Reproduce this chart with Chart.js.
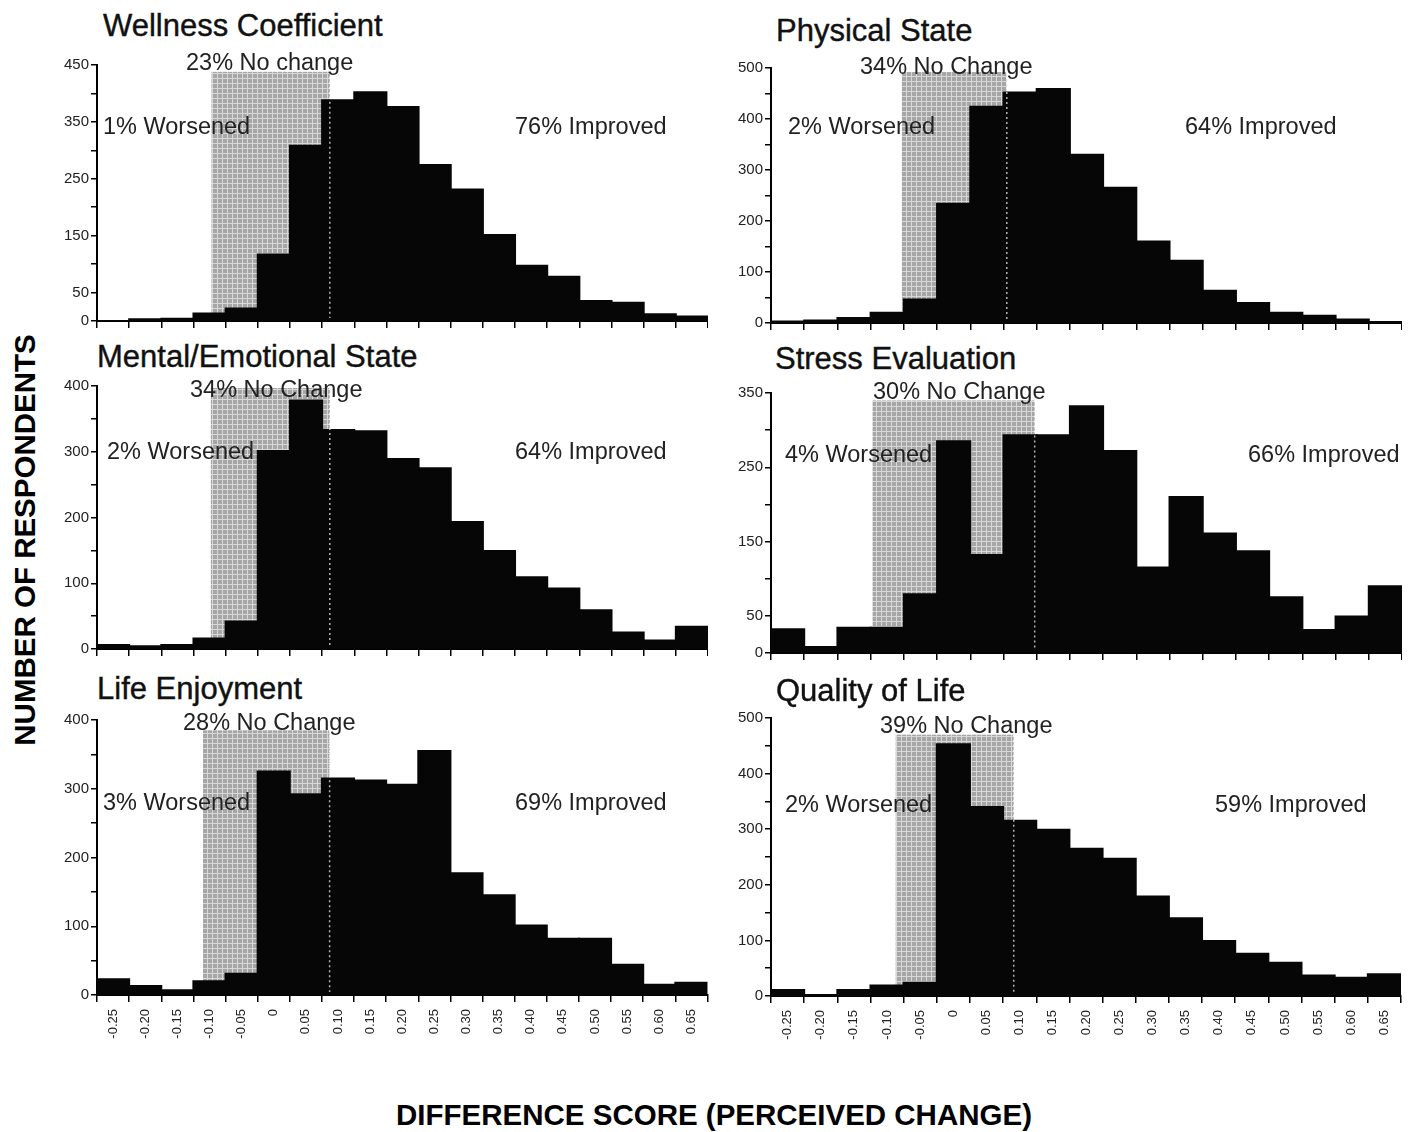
<!DOCTYPE html>
<html>
<head>
<meta charset="utf-8">
<script src="https://cdn.jsdelivr.net/npm/chart.js@4.4.1/dist/chart.umd.min.js"></script>
<style>
  body { margin: 0; background: #fff; }
  #page { position: relative; width: 1415px; height: 1132px; overflow: hidden; font-family: "Liberation Sans", Arial, sans-serif; color: #111; }
  .box { position: absolute; }
  .txt { position: absolute; white-space: nowrap; line-height: 1; transform: translateY(-50%); }
  .title { font-size: 31px; color: #111; -webkit-text-stroke: 0.4px #111; }
  .note { font-size: 23.5px; color: #222; }
  .axis-title { position: absolute; font-weight: bold; white-space: nowrap; line-height: 1; color: #000; }
</style>
</head>
<body>
<div id="page">
  <div class="box" id="box-wellness" style="left:47px; top:53px; width:661px; height:279px;"><canvas id="c-wellness"></canvas></div>
  <div class="box" id="box-physical" style="left:721px; top:56px; width:681px; height:278px;"><canvas id="c-physical"></canvas></div>
  <div class="box" id="box-mental" style="left:47px; top:374px; width:661px; height:286px;"><canvas id="c-mental"></canvas></div>
  <div class="box" id="box-stress" style="left:721px; top:381px; width:681px; height:283px;"><canvas id="c-stress"></canvas></div>
  <div class="box" id="box-life" style="left:47px; top:708px; width:667px; height:347px;"><canvas id="c-life"></canvas></div>
  <div class="box" id="box-quality" style="left:721px; top:706px; width:686px; height:350px;"><canvas id="c-quality"></canvas></div>

  <div class="txt title" style="left:103px; top:25px;">Wellness Coefficient</div>
  <div class="txt note" style="left:186px; top:63px;">23% No change</div>
  <div class="txt note" style="left:103px; top:127px;">1% Worsened</div>
  <div class="txt note" style="left:515px; top:127px;">76% Improved</div>

  <div class="txt title" style="left:776px; top:30px;">Physical State</div>
  <div class="txt note" style="left:860px; top:67px;">34% No Change</div>
  <div class="txt note" style="left:788px; top:127px;">2% Worsened</div>
  <div class="txt note" style="left:1185px; top:127px;">64% Improved</div>

  <div class="txt title" style="left:97px; top:356px;">Mental/Emotional State</div>
  <div class="txt note" style="left:190px; top:390px;">34% No Change</div>
  <div class="txt note" style="left:107px; top:452px;">2% Worsened</div>
  <div class="txt note" style="left:515px; top:452px;">64% Improved</div>

  <div class="txt title" style="left:775px; top:358px;">Stress Evaluation</div>
  <div class="txt note" style="left:873px; top:392px;">30% No Change</div>
  <div class="txt note" style="left:785px; top:455px;">4% Worsened</div>
  <div class="txt note" style="left:1248px; top:455px;">66% Improved</div>

  <div class="txt title" style="left:97px; top:688px;">Life Enjoyment</div>
  <div class="txt note" style="left:183px; top:723px;">28% No Change</div>
  <div class="txt note" style="left:103px; top:803px;">3% Worsened</div>
  <div class="txt note" style="left:515px; top:803px;">69% Improved</div>

  <div class="txt title" style="left:776px; top:690px;">Quality of Life</div>
  <div class="txt note" style="left:880px; top:726px;">39% No Change</div>
  <div class="txt note" style="left:785px; top:805px;">2% Worsened</div>
  <div class="txt note" style="left:1215px; top:805px;">59% Improved</div>

  <div class="axis-title" style="left:25px; top:540px; font-size:29.5px; transform: translate(-50%, -50%) rotate(-90deg);">NUMBER OF RESPONDENTS</div>
  <div class="axis-title" style="left:714px; top:1115px; font-size:29.5px; transform: translate(-50%, -50%);">DIFFERENCE SCORE (PERCEIVED CHANGE)</div>
</div>

<script>
// 差值分数（横轴类别）
const diffScores = ['-0.25', '-0.20', '-0.15', '-0.10', '-0.05', '0', '0.05', '0.10', '0.15', '0.20',
  '0.25', '0.30', '0.35', '0.40', '0.45', '0.50', '0.55', '0.60', '0.65'];

// 各分量的人数
const wellness = [0, 3, 4, 13, 22, 117, 308, 388, 402, 376, 274, 231, 151, 97, 78, 35, 32, 12, 8];
const physical = [3, 5, 10, 20, 46, 234, 424, 452, 459, 330, 265, 160, 122, 63, 39, 20, 14, 7, 2];
const mental = [6, 4, 6, 16, 42, 301, 378, 333, 331, 289, 275, 193, 149, 109, 92, 59, 25, 13, 34];
const stress = [32, 8, 34, 34, 79, 285, 132, 293, 293, 332, 272, 115, 210, 161, 137, 75, 31, 49, 90];
const life = [23, 13, 7, 20, 31, 325, 292, 315, 312, 306, 355, 177, 145, 101, 82, 82, 44, 15, 18];
const quality = [11, 2, 11, 19, 24, 453, 340, 315, 299, 265, 247, 179, 140, 99, 76, 60, 37, 33, 39];

// 纵轴范围与显示的刻度标签
const wellnessTicks = [0, 50, 150, 250, 350, 450];
const physicalTicks = [0, 100, 200, 300, 400, 500];
const mentalTicks = [0, 100, 200, 300, 400];
const stressTicks = [0, 50, 150, 250, 350];
const lifeTicks = [0, 100, 200, 300, 400];
const qualityTicks = [0, 100, 200, 300, 400, 500];

// "无变化"区间（差值分数）及阴影高度（人数）
const wellnessBand = [-0.097, 0.087, 438];
const physicalBand = [-0.078, 0.080, 492];
const mentalBand = [-0.098, 0.087, 397];
const stressBand = [-0.122, 0.122, 340];
const lifeBand = [-0.110, 0.087, 385];
const qualityBand = [-0.087, 0.091, 470];

const FONT = '"Liberation Sans", Arial, sans-serif';

// 点状灰色纹理
function makePattern(ctx) {
  const tile = document.createElement('canvas');
  tile.width = 5;
  tile.height = 5;
  const t = tile.getContext('2d');
  t.fillStyle = '#a6a6a6';
  t.fillRect(0, 0, 5, 5);
  t.fillStyle = '#d8d8d8';
  t.fillRect(0, 0, 5, 1);
  t.fillRect(0, 0, 1, 5);
  return ctx.createPattern(tile, 'repeat');
}

// 分数 -> 类别序号
function scoreToIndex(s) {
  const first = parseFloat(diffScores[0]);
  const step = parseFloat(diffScores[1]) - first;
  return (s - first) / step;
}

const bandPlugin = {
  id: 'noChangeBand',
  beforeDatasetsDraw(chart, args, opts) {
    const x = chart.scales.x, y = chart.scales.y;
    const ctx = chart.ctx;
    const x0 = x.getPixelForValue(scoreToIndex(opts.band[0]));
    const x1 = x.getPixelForValue(scoreToIndex(opts.band[1]));
    const yTop = y.getPixelForValue(opts.band[2]);
    const yBase = y.getPixelForValue(0);
    ctx.save();
    ctx.fillStyle = makePattern(ctx);
    ctx.fillRect(x0, yTop, x1 - x0, yBase - yTop);
    ctx.restore();
  },
  afterDatasetsDraw(chart, args, opts) {
    const x = chart.scales.x, y = chart.scales.y;
    const ctx = chart.ctx;
    const x1 = x.getPixelForValue(scoreToIndex(opts.band[1]));
    ctx.save();
    ctx.strokeStyle = 'rgba(255,255,255,0.7)';
    ctx.lineWidth = 1.5;
    ctx.setLineDash([2, 3]);
    ctx.beginPath();
    ctx.moveTo(x1, y.getPixelForValue(opts.band[2]));
    ctx.lineTo(x1, y.getPixelForValue(0) - 3);
    ctx.stroke();
    ctx.restore();
  }
};

function drawPanel(id, values, tickLabels, band, showLabels) {
  const ctx = document.getElementById(id).getContext('2d');
  const max = tickLabels[tickLabels.length - 1];
  return new Chart(ctx, {
    type: 'bar',
    data: {
      labels: diffScores,
      datasets: [{
        data: values,
        backgroundColor: '#060606',
        borderWidth: 0,
        inflateAmount: 1,
        barPercentage: 1,
        categoryPercentage: 1
      }]
    },
    plugins: [bandPlugin],
    options: {
      responsive: true,
      maintainAspectRatio: false,
      animation: false,
      layout: { padding: { top: 12, right: 0, left: 0, bottom: 0 } },
      plugins: {
        legend: { display: false },
        tooltip: { enabled: false },
        noChangeBand: { band: band }
      },
      scales: {
        x: {
          offset: true,
          grid: { offset: true, drawOnChartArea: false, tickLength: 7, color: '#000', lineWidth: 1.5 },
          border: { color: '#000', width: 2 },
          ticks: {
            display: showLabels,
            autoSkip: false,
            minRotation: 90,
            maxRotation: 90,
            padding: 7,
            color: '#222',
            font: { family: FONT, size: 13 }
          },
          afterFit: s => { s.height = showLabels ? 60 : 10; }
        },
        y: {
          min: 0,
          max: max,
          grid: { drawOnChartArea: false, tickLength: 6, color: '#000', lineWidth: 1.5 },
          border: { color: '#000', width: 2 },
          ticks: {
            stepSize: 50,
            autoSkip: false,
            padding: 2,
            color: '#222',
            font: { family: FONT, size: 15 },
            callback: v => tickLabels.includes(v) ? String(v) : ''
          },
          afterFit: s => { s.width = 50; }
        }
      }
    }
  });
}

drawPanel('c-wellness', wellness, wellnessTicks, wellnessBand, false);
drawPanel('c-physical', physical, physicalTicks, physicalBand, false);
drawPanel('c-mental', mental, mentalTicks, mentalBand, false);
drawPanel('c-stress', stress, stressTicks, stressBand, false);
drawPanel('c-life', life, lifeTicks, lifeBand, true);
drawPanel('c-quality', quality, qualityTicks, qualityBand, true);
</script>
</body>
</html>
